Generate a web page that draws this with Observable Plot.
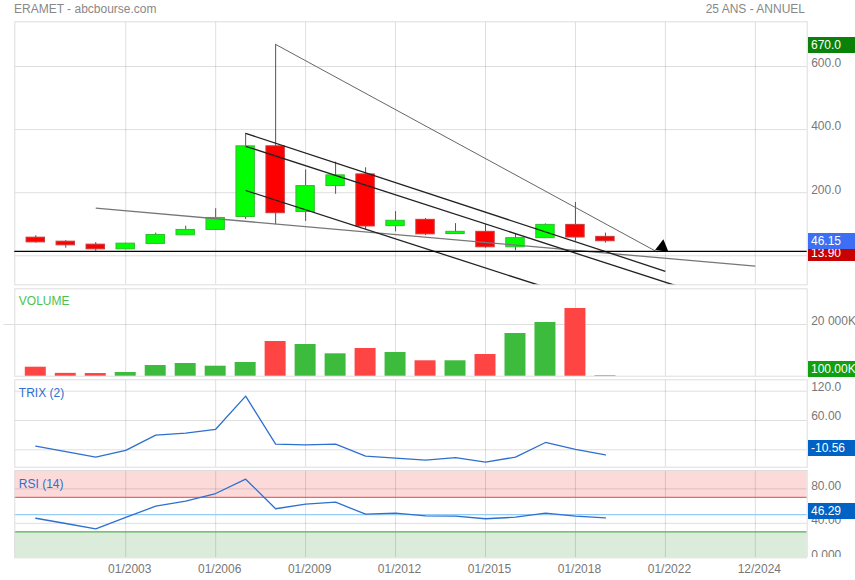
<!DOCTYPE html>
<html><head><meta charset="utf-8">
<script src="https://cdn.jsdelivr.net/npm/d3@7"></script>
<script src="https://cdn.jsdelivr.net/npm/@observablehq/plot@0.6"></script>
<style>
body{margin:0;background:#fff;font-family:"Liberation Sans",Arial,sans-serif;}
#wrap{position:relative;width:855px;height:580px;overflow:hidden;background:#fff;}
#wrap svg{position:absolute;left:0;top:0;}
.lbl{position:absolute;left:808px;width:47px;height:16px;line-height:16px;color:#fff;font-size:12px;padding-left:3px;box-sizing:border-box;white-space:nowrap;overflow:hidden;}
.txt{position:absolute;font-size:12px;white-space:nowrap;color:#888;line-height:14px;}
</style></head><body><div id="wrap"></div>
<script>
// ---- data ----
const years  = [2000,2001,2002,2003,2004,2005,2006,2007,2008,2009,2010,2011,2012,2013,2014,2015,2016,2017,2018,2019];
const open   = [57.5,44.8,35.4,20.5,37.6,65,82,123,347,139,221,258,94,114,69,76,27,56,98,60];
const high   = [64,48,42,40,72,94,149,388,670,272,297,279,140,118,102,99,69,101,169,72];
const low    = [40,24,13.9,19,37,64,80,115,98,109,195,83,76,64,68,24,16,56,46,40];
const close  = [42.6,33.2,20.5,38.5,66,82,120,347,135,221,255,93,111,68,76,27,56,98,58,46.15];
const volumeK = [3480,1100,1040,1430,4140,4910,3870,5300,13420,12260,8660,10710,9170,5960,5960,8390,16520,20770,26190,200];
const trix   = [7.4,-3.5,-15,-1,30,34,42,110,11.5,10,11.5,-13,-17,-21,-16,-25,-15,15,1,-10.56];
const rsi    = [45.9,39.8,33.6,46.8,59.9,65.7,74.6,91.2,56.9,62.2,64.5,50.6,51.8,48.7,48.3,45.3,47.1,51.8,48.3,46.29];
const tickYears  = [2003,2006,2009,2012,2015,2018,2021,2024];
const tickLabels = ["01/2003","01/2006","01/2009","01/2012","01/2015","01/2018","01/2022","12/2024"];
const priceGrid = [0,200,400,600];
const priceTicks = [200,400,600];
const volumeTicks = [20000];
const trixGrid = [0,60,120];
const trixTicks = [60,120];
const rsiGrid = [40,80];
const rsiTicks = [0,40,80];
const rsiLevels = [30,50,70];
const supportLevel = 13.9;
const maxHigh = 670, lastClose = 46.15;
const trendlines = [
  {kind:"arrow",   x1:2008, y1:670, x2:2020.73, y2:12},
  {kind:"fan",     x1:2002, y1:151, x2:2024,    y2:-33},
  {kind:"channel", x1:2007, y1:388, x2:2021,    y2:-49},
  {kind:"channel", x1:2007, y1:347, x2:2021.33, y2:-94},
  {kind:"channel", x1:2007, y1:207, x2:2016.81, y2:-94}
];

// ---- derived table ----
const candles = years.map((y,i)=>({year:y, open:open[i], high:high[i], low:low[i], close:close[i], vol:volumeK[i], trix:trix[i], rsi:rsi[i], up: close[i]>=open[i]}));

// ---- layout ----
const W=855, H=580, L=14.3, R=855-806.7;
const xDomain=[1999.3, 2025.73];
const FONT = "Liberation Sans, Arial, sans-serif";
const wrap = document.getElementById("wrap");
const fmt = d => d.toPrecision(4);
const grid = {stroke:"#000", strokeOpacity:0.13};

function panel(top, bottom, yDomain, marks){
  const svg = Plot.plot({
    width:W, height:H, marginLeft:L, marginRight:R, marginTop:top, marginBottom:H-bottom,
    x:{domain:xDomain, axis:null},
    y:{domain:yDomain, axis:null},
    style:{background:"transparent", fontFamily:FONT, fontSize:"12px", color:"#777", overflow:"visible"},
    marks
  });
  wrap.appendChild(svg);
  return svg;
}
function rightAxis(ticks, format, dy){
  return Plot.axisY(ticks, {anchor:"right", label:null, tickSize:0, tickPadding:4, tickFormat:format, dy, fontSize:12, fill:"#777"});
}
function box(svg, value, text, color, offset){
  const y = svg.scale("y").apply(value) + offset;
  const d = document.createElement("div");
  d.className="lbl"; d.textContent=text; d.style.background=color; d.style.top=(y-8)+"px";
  wrap.appendChild(d);
}

// main price panel
const main = panel(21.3, 284.3, [-91.9, 741.7], [
  Plot.ruleY(priceGrid, grid),
  Plot.ruleX(tickYears, grid),
  Plot.frame({stroke:"#ddd"}),
  Plot.ruleX(candles, {x:"year", y1:"low", y2:"high", stroke:"#555", strokeWidth:1}),
  Plot.rect(candles, {x1:d=>d.year-0.307, x2:d=>d.year+0.307, y1:"open", y2:"close",
    fill:d=>d.up?"#00ff00":"#ff0000", stroke:d=>d.up?"#33bb33":"#c83a3a", strokeWidth:1}),
  Plot.link(trendlines.filter(d=>d.kind==="fan"), {x1:"x1",y1:"y1",x2:"x2",y2:"y2", stroke:"#777", strokeWidth:1.3}),
  Plot.link(trendlines.filter(d=>d.kind==="arrow"), {x1:"x1",y1:"y1",x2:"x2",y2:"y2", stroke:"#666", strokeWidth:1}),
  Plot.link(trendlines.filter(d=>d.kind==="channel"), {x1:"x1",y1:"y1",x2:"x2",y2:"y2", stroke:"#222", strokeWidth:1.3, clip:true}),
  Plot.ruleY([supportLevel], {stroke:"#000", strokeWidth:1.3}),
  Plot.dot(trendlines.filter(d=>d.kind==="arrow"), {x:"x2", y:"y2", symbol:"triangle", r:5, fill:"#000", stroke:"none", dx:5, dy:-5, rotate:8}),
  rightAxis(priceTicks, fmt, -3)
]);
box(main, supportLevel, supportLevel.toFixed(2), "#c80000", 2);
box(main, lastClose, lastClose.toFixed(2), "#3d6ff5", 0);
box(main, maxHigh, maxHigh.toFixed(1), "#0a820a", 1);

// volume panel
const vol = panel(288.3, 375.7, [0, 33810], [
  Plot.ruleY([20000], {...grid, insetLeft:-11}),
  Plot.ruleX(tickYears, grid),
  Plot.frame({stroke:"#ddd"}),
  Plot.rect(candles, {x1:d=>d.year-0.35, x2:d=>d.year+0.35, y1:0, y2:"vol", fill:d=>d.up?"#3dbb3d":"#ff4444"}),
  Plot.text(["VOLUME"], {frameAnchor:"top-left", dx:4, dy:8, fill:"#4cc24c", fontSize:12}),
  rightAxis(volumeTicks, ()=>"20 000K", -3)
]);
box(vol, 100, "100.00K", "#12a012", -6);

// TRIX panel
const tr = panel(379.3, 466.7, [-35.6, 143.3], [
  Plot.ruleY(trixGrid, grid),
  Plot.ruleX(tickYears, grid),
  Plot.frame({stroke:"#ddd"}),
  Plot.line(candles, {x:"year", y:"trix", stroke:"#2e6fd0", strokeWidth:1.3}),
  Plot.text(["TRIX (2)"], {frameAnchor:"top-left", dx:4, dy:8.5, fill:"#2e6fd0", fontSize:12}),
  rightAxis(trixTicks, fmt, -4)
]);
box(tr, trix[trix.length-1], trix[trix.length-1].toFixed(2), "#0062c4", -6);

// RSI panel
const rsiTop = 101.3;
const rs = panel(470, 557.3, [0, rsiTop], [
  Plot.rect([{y1:rsiLevels[2], y2:rsiTop}], {y1:"y1", y2:"y2", fill:"#fddada"}),
  Plot.rect([{y1:0, y2:rsiLevels[0]}], {y1:"y1", y2:"y2", fill:"#dbedda"}),
  Plot.ruleY(rsiGrid, grid),
  Plot.ruleX(tickYears, grid),
  Plot.ruleY([rsiLevels[2]], {stroke:"#f06464", strokeWidth:1.2}),
  Plot.ruleY([rsiLevels[1]], {stroke:"#99ccf5", strokeWidth:1.2}),
  Plot.ruleY([rsiLevels[0]], {stroke:"#5cad5c", strokeWidth:1.2}),
  Plot.frame({stroke:"#ddd"}),
  Plot.line(candles, {x:"year", y:"rsi", stroke:"#2e6fd0", strokeWidth:1.3}),
  Plot.text(["RSI (14)"], {frameAnchor:"top-left", dx:4, dy:9, fill:"#2e6fd0", fontSize:12}),
  rightAxis(rsiTicks, fmt, -3),
  Plot.axisX(tickYears, {anchor:"bottom", label:null, tickSize:0, tickPadding:7, dx:4, fontSize:12, fill:"#777",
    tickFormat:d=>tickLabels[tickYears.indexOf(d)]})
]);
box(rs, rsi[rsi.length-1], rsi[rsi.length-1].toFixed(2), "#0062c4", -6.5);
// clip the bottom tick label at the panel edge, as in the reference
const clipper = document.createElement("div");
clipper.style.cssText = "position:absolute;left:807px;top:557.3px;width:48px;height:5px;background:#fff;";
wrap.appendChild(clipper);

// titles
const t1 = document.createElement("div");
t1.className="txt"; t1.textContent="ERAMET - abcbourse.com"; t1.style.left="14px"; t1.style.top="2px";
wrap.appendChild(t1);
const t2 = document.createElement("div");
t2.className="txt"; t2.textContent="25 ANS - ANNUEL"; t2.style.right="50px"; t2.style.top="2px";
wrap.appendChild(t2);
</script></body></html>
